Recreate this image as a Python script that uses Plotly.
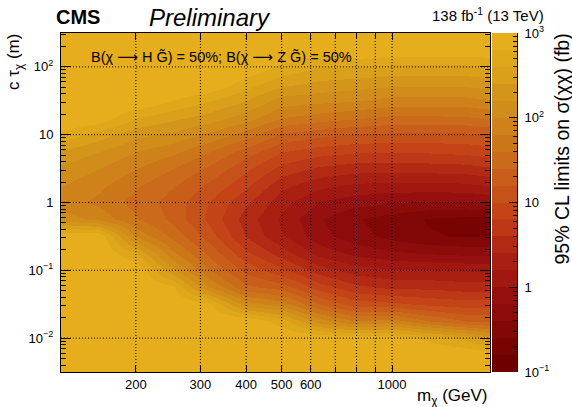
import numpy as np
import plotly.graph_objects as go

# ---------------- data ----------------
mass_gev = [126, 158, 200, 251, 316, 398, 501, 631, 794, 1000, 1259, 1585, 1850]
ctau_m = [316, 178, 100, 56.2, 31.6, 17.8, 10, 5.62, 3.16, 1.78, 1.0, 0.562, 0.316,
          0.178, 0.1, 0.0562, 0.0316, 0.0178, 0.01, 0.00562, 0.00316]

# log10 of the 95% CL upper limit on sigma (fb); one list per mass point, entries follow ctau_m
log10_limit_by_mass = [
    [3, 3, 3, 3, 3, 3, 2.75, 2.35, 2.15, 2.0, 1.9, 2.1, 3, 3, 3, 3, 3, 3, 3, 3, 3],
    [3, 3, 3, 3, 3, 2.95, 2.5, 2.2, 2.0, 1.85, 1.75, 1.95, 3, 3, 3, 3, 3, 3, 3, 3, 3],
    [3, 3, 3, 3, 3, 2.6, 2.25, 2.0, 1.8, 1.62, 1.52, 1.62, 1.95, 2.6, 3, 3, 3, 3, 3, 3, 3],
    [3, 3, 3, 3, 2.8, 2.45, 2.15, 1.85, 1.6, 1.42, 1.32, 1.35, 1.55, 1.85, 2.25, 2.85, 3, 3, 3, 3, 3],
    [3, 3, 3, 3, 2.6, 2.3, 1.95, 1.6, 1.35, 1.15, 1.0, 0.95, 1.1, 1.35, 1.6, 2.0, 2.85, 3, 3, 3, 3],
    [3, 3, 3, 2.7, 2.4, 2.1, 1.7, 1.3, 1.05, 0.85, 0.65, 0.52, 0.6, 0.85, 1.15, 1.45, 2.1, 3, 3, 3, 3],
    [3, 3, 2.75, 2.45, 2.1, 1.8, 1.35, 1.0, 0.72, 0.45, 0.28, 0.15, 0.22, 0.5, 0.85, 1.3, 1.9, 2.7, 3, 3, 3],
    [3, 3, 2.6, 2.35, 2.05, 1.7, 1.25, 0.88, 0.55, 0.25, 0.0, -0.18, -0.12, 0.12, 0.5, 0.9, 1.4, 2.1, 3, 3, 3],
    [3, 3, 2.6, 2.3, 2.0, 1.62, 1.18, 0.82, 0.48, 0.15, -0.12, -0.38, -0.32, -0.06, 0.3, 0.65, 1.1, 1.8, 2.95, 3, 3],
    [3, 2.95, 2.55, 2.25, 1.92, 1.55, 1.15, 0.8, 0.46, 0.12, -0.18, -0.5, -0.47, -0.16, 0.22, 0.55, 1.05, 1.9, 2.95, 3, 3],
    [3, 2.95, 2.55, 2.25, 1.92, 1.55, 1.15, 0.82, 0.48, 0.12, -0.22, -0.62, -0.58, -0.22, 0.2, 0.55, 0.95, 1.6, 2.75, 3, 3],
    [3, 2.95, 2.55, 2.25, 1.92, 1.57, 1.15, 0.85, 0.5, 0.14, -0.22, -0.66, -0.62, -0.26, 0.18, 0.5, 0.9, 1.4, 2.55, 3, 3],
    [3, 2.95, 2.6, 2.3, 1.97, 1.62, 1.2, 0.9, 0.56, 0.2, -0.18, -0.66, -0.62, -0.26, 0.18, 0.5, 0.92, 1.35, 2.3, 2.95, 3],
]

x_tick_gev = [200, 300, 400, 500, 600, 1000]
x_tick_text = ["200", "300", "400", "500", "600", "1000"]
x_minor_gev = [700, 800, 900]
y_tick_m = [0.01, 0.1, 1, 10, 100]
y_tick_text = ["10<sup>\u22122</sup>", "10<sup>\u22121</sup>", "1", "10", "10<sup>2</sup>"]
z_tick_fb = [0.1, 1, 10, 100, 1000]
z_tick_text = ["10<sup>\u22121</sup>", "1", "10", "10<sup>2</sup>", "10<sup>3</sup>"]
z_min_fb, z_max_fb = 0.1, 1000
mass_range_gev = [125, 1850]
ctau_range_m = [0.00316, 316]

band_colors = [
    "#6e0000", "#780303", "#820707", "#8c0b0b", "#961010",
    "#a01810", "#a92012", "#b32a14", "#bd3816", "#c44418",
    "#c75219", "#c85e1a", "#ca6a1a", "#cc761a", "#cf821a",
    "#d08d1a", "#d4961a", "#daa01a", "#dfa81a", "#e6ae1c",
]

FONT = "Liberation Sans, Arial, Helvetica, sans-serif"

# ---------------- build figure ----------------
n = len(band_colors)
colorscale = []
for i, c in enumerate(band_colors):
    colorscale.append([i / n, c])
    colorscale.append([(i + 1) / n, c])

zlo, zhi = np.log10(z_min_fb), np.log10(z_max_fb)
z = np.array(log10_limit_by_mass, dtype=float).T
xv = np.log10(mass_gev)
yv = np.log10(ctau_m)

fig = go.Figure()
fig.add_trace(go.Heatmap(
    x=xv, y=yv, z=z, zmin=zlo, zmax=zhi, colorscale=colorscale,
    zsmooth="best", showscale=False, xaxis="x", yaxis="y", hoverinfo="skip"))

# colour bar drawn as its own axis
cb_levels = np.linspace(zlo + (zhi - zlo) / (2 * n), zhi - (zhi - zlo) / (2 * n), n)
fig.add_trace(go.Heatmap(
    x=[0], y=cb_levels, z=cb_levels.reshape(-1, 1), zmin=zlo, zmax=zhi,
    colorscale=colorscale, showscale=False, xaxis="x2", yaxis="y2", hoverinfo="skip"))

W, H = 572, 407
ml, mr, mt, mb = 61, 55, 33, 35
pw = W - ml - mr
ph = H - mt - mb
main_right = 490
cb_left = 492


def px_x(p):
    return (p - ml) / pw


def px_y(p):
    return (H - mb - p) / ph


y_minor = [np.log10(k * 10.0 ** e) for e in range(-3, 3) for k in range(2, 10)
           if np.log10(ctau_range_m[0]) < np.log10(k * 10.0 ** e) < np.log10(ctau_range_m[1])]
z_minor = [np.log10(k * 10.0 ** e) for e in range(-1, 3) for k in range(2, 10)]

axis_font = dict(family=FONT, size=13, color="black")

fig.update_layout(
    width=W, height=H, margin=dict(l=ml, r=mr, t=mt, b=mb),
    paper_bgcolor="white", plot_bgcolor="white", showlegend=False,
    font=dict(family=FONT, color="black"),
    xaxis=dict(
        domain=[0, px_x(main_right)], range=list(np.log10(mass_range_gev)),
        tickvals=list(np.log10(x_tick_gev)), ticktext=x_tick_text,
        ticks="inside", ticklen=7, tickcolor="black", tickwidth=1,
        minor=dict(tickvals=list(np.log10(x_minor_gev)), ticks="inside", ticklen=5,
                   tickcolor="black", showgrid=False),
        showline=True, linecolor="black", linewidth=1, mirror="ticks",
        showgrid=False, zeroline=False, layer="above traces",
        tickfont=axis_font, fixedrange=True),
    yaxis=dict(
        domain=[0, 1], range=list(np.log10(ctau_range_m)),
        tickvals=list(np.log10(y_tick_m)), ticktext=y_tick_text,
        ticks="inside", ticklen=10, tickcolor="black", tickwidth=1,
        minor=dict(tickvals=y_minor, ticks="inside", ticklen=5, tickcolor="black", showgrid=False),
        showline=True, linecolor="black", linewidth=1, mirror="ticks",
        showgrid=False, zeroline=False, layer="above traces",
        tickfont=axis_font, ticklabelstandoff=4, fixedrange=True),
    xaxis2=dict(domain=[px_x(cb_left), 1.0], range=[-0.5, 0.5], visible=False, fixedrange=True),
    yaxis2=dict(
        anchor="x2", side="right", domain=[0, 1], range=[zlo, zhi],
        tickvals=list(np.log10(z_tick_fb)), ticktext=z_tick_text,
        ticks="inside", ticklen=8, tickcolor="black",
        minor=dict(tickvals=z_minor, ticks="inside", ticklen=4, tickcolor="black", showgrid=False),
        showline=True, linecolor="black", linewidth=1,
        showgrid=False, zeroline=False, layer="above traces",
        tickfont=axis_font, ticklabelstandoff=4, fixedrange=True),
)

# dotted grid drawn above the map
grid = dict(color="black", width=1, dash="1px,2px")
for v in x_tick_gev + x_minor_gev:
    fig.add_shape(type="line", xref="x", yref="y", x0=np.log10(v), x1=np.log10(v),
                  y0=np.log10(ctau_range_m[0]), y1=np.log10(ctau_range_m[1]), line=grid, layer="above")
for v in y_tick_m:
    fig.add_shape(type="line", xref="x", yref="y", y0=np.log10(v), y1=np.log10(v),
                  x0=np.log10(mass_range_gev[0]), x1=np.log10(mass_range_gev[1]), line=grid, layer="above")

ARROW = "<span style=\"font-family:'DejaVu Sans'\">\u27f6</span>"
ann = []
ann.append(dict(text="<b>CMS</b>", x=px_x(54), y=px_y(17), xanchor="left", yanchor="middle",
                font=dict(family=FONT, size=20)))
ann.append(dict(text="<i>Preliminary</i>", x=px_x(147), y=px_y(17), xanchor="left", yanchor="middle",
                font=dict(family=FONT, size=24)))
ann.append(dict(text="138 fb<sup>-1</sup> (13 TeV)", x=px_x(546), y=px_y(15), xanchor="right",
                yanchor="middle", font=dict(family=FONT, size=15)))
ann.append(dict(text="B(\u03c7 " + ARROW + " H G\u0303) = 50%; B(\u03c7 " + ARROW + " Z G\u0303) = 50%",
                x=px_x(89), y=px_y(57), xanchor="left", yanchor="middle",
                font=dict(family=FONT, size=14.5)))
ann.append(dict(text="m<sub>\u03c7</sub> (GeV)", x=px_x(489), y=px_y(397), xanchor="right",
                yanchor="middle", font=dict(family=FONT, size=17)))
ann.append(dict(text="c \u03c4<sub>\u03c7</sub> (m)", x=px_x(15), y=px_y(32), xanchor="center",
                yanchor="top", textangle=-90, font=dict(family=FONT, size=17)))
ann.append(dict(text="95% CL limits on \u03c3(\u03c7\u03c7) (fb)", x=px_x(561), y=px_y(32),
                xanchor="center", yanchor="top", textangle=-90, font=dict(family=FONT, size=19.5)))
for a in ann:
    a.update(xref="paper", yref="paper", showarrow=False)
fig.update_layout(annotations=ann)

fig.write_html("out.html")
